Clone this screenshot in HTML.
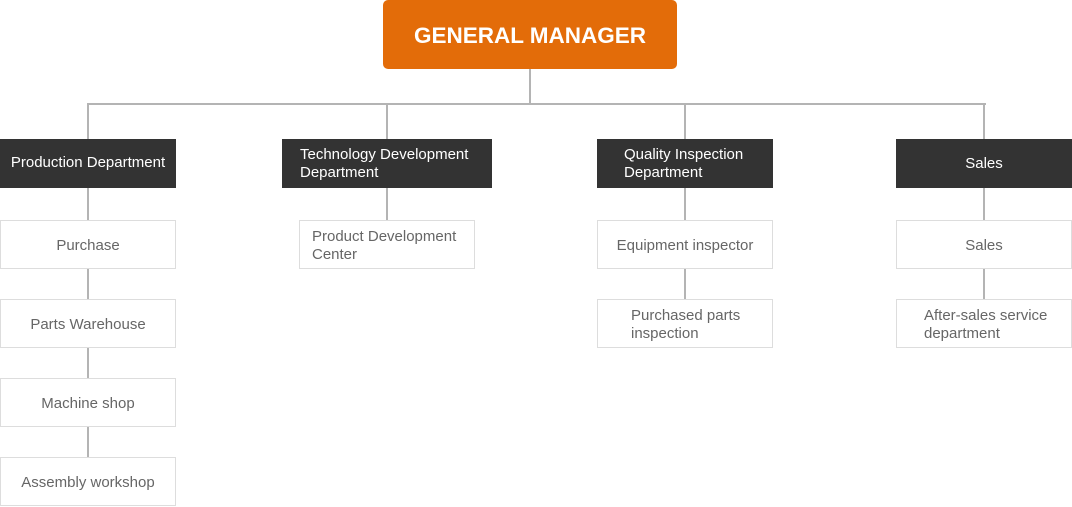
<!DOCTYPE html>
<html><head><meta charset="utf-8"><style>
body{margin:0;width:1072px;height:507px;background:#fff;position:relative;overflow:hidden;font-family:"Liberation Sans",sans-serif}
.b{position:absolute;box-sizing:border-box;display:flex;align-items:center;font-size:15px;line-height:18px}
.d{background:#333;color:#fff}
.c{border:1px solid #ddd;color:#666;background:#fff;padding-top:3px}
.ctr{justify-content:center;text-align:center}
.l{position:absolute;background:#b4b4b4}
</style></head><body>
<div class="l" style="left:529px;top:69px;width:2px;height:35px"></div>
<div class="l" style="left:87px;top:103px;width:899px;height:2px"></div>
<div class="l" style="left:87px;top:103px;width:2px;height:400px"></div>
<div class="l" style="left:386px;top:103px;width:2px;height:120px"></div>
<div class="l" style="left:684px;top:103px;width:2px;height:200px"></div>
<div class="l" style="left:983px;top:103px;width:2px;height:200px"></div>

<div class="b ctr" style="left:383px;top:0;width:294px;height:69px;background:#e36c09;border-radius:5px;color:#fff;font-weight:bold;font-size:22.5px;padding-top:2px">GENERAL MANAGER</div>

<div class="b d ctr" style="left:0;top:139px;width:176px;height:49px;padding-bottom:2px">Production Department</div>
<div class="b d" style="left:282px;top:139px;width:210px;height:49px;padding-left:18px">Technology Development<br>Department</div>
<div class="b d" style="left:597px;top:139px;width:176px;height:49px;padding-left:27px">Quality Inspection<br>Department</div>
<div class="b d ctr" style="left:896px;top:139px;width:176px;height:49px">Sales</div>

<div class="b c ctr" style="left:0;top:220px;width:176px;height:49px">Purchase</div>
<div class="b c ctr" style="left:0;top:299px;width:176px;height:49px">Parts Warehouse</div>
<div class="b c ctr" style="left:0;top:378px;width:176px;height:49px">Machine shop</div>
<div class="b c ctr" style="left:0;top:457px;width:176px;height:49px">Assembly workshop</div>

<div class="b c" style="left:299px;top:220px;width:176px;height:49px;padding-left:12px">Product Development<br>Center</div>

<div class="b c ctr" style="left:597px;top:220px;width:176px;height:49px">Equipment inspector</div>
<div class="b c" style="left:597px;top:299px;width:176px;height:49px;padding-left:33px">Purchased parts<br>inspection</div>

<div class="b c ctr" style="left:896px;top:220px;width:176px;height:49px">Sales</div>
<div class="b c" style="left:896px;top:299px;width:176px;height:49px;padding-left:27px">After-sales service<br>department</div>
</body></html>
